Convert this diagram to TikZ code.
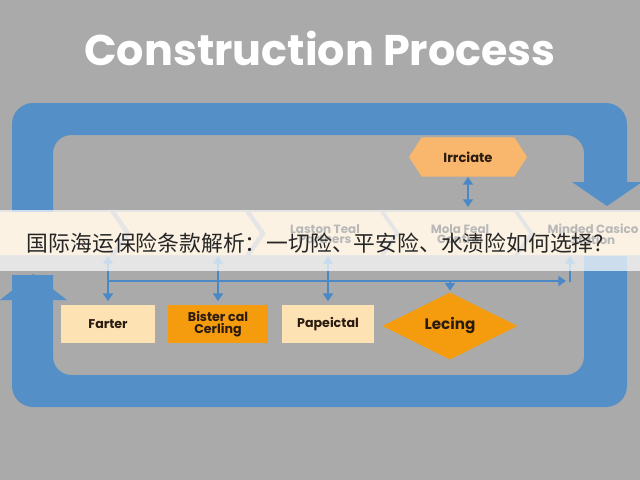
\documentclass[tikz,border=0pt]{standalone}
\usepackage{fontspec}
\setmainfont{Poppins}
\newfontfamily\cjkfont{Noto Sans CJK SC}
\usetikzlibrary{positioning, shapes.geometric, shapes.symbols, arrows.meta}

\definecolor{bggray}{HTML}{AAAAAA}
\definecolor{loopblue}{HTML}{548FC7}
\definecolor{lineblue}{HTML}{4A88C6}
\definecolor{stepcream}{HTML}{FDE2B4}
\definecolor{steporange}{HTML}{F59C0E}
\definecolor{hexorange}{HTML}{F8B76C}
\definecolor{chevcream}{HTML}{F8D4A2}
\definecolor{inkbrown}{HTML}{2A1B10}

\tikzset{
  stepbox/.style={rectangle, fill=stepcream, text=inkbrown, align=center,
    font=\bfseries\fontsize{9}{9}\selectfont, minimum height=27pt, inner sep=1pt},
  link/.style={draw=lineblue, line width=2pt, -{Triangle[width=7pt,length=5.5pt]}},
  twoway/.style={draw=lineblue, line width=2pt,
    {Triangle[width=7pt,length=5.5pt]}-{Triangle[width=7pt,length=5.5pt]}},
  chevlabel/.style={text=black!28, align=center, font=\bfseries\fontsize{8.5}{7.5}\selectfont},
}

\begin{document}
\begin{tikzpicture}[x=0.025cm, y=-0.025cm]
    \useasboundingbox (0,0) rectangle (640,480);
    \fill[bggray] (0,0) rectangle (640,480);

    % title
    \node[text=white, font=\bfseries\fontsize{30.5}{33}\selectfont] (title) at (320,48) {Construction Process};

    % big return loop
    \fill[loopblue, even odd rule] [rounded corners=15pt] (12,103) rectangle (627,407)
        [rounded corners=13pt] (53,135) rectangle (584,375);
    \fill[bggray] (0,214) rectangle (75,275);
    \fill[bggray] (560,182) rectangle (640,256);
    % loop arrow heads
    \fill[loopblue] (0,300) -- (33,274) -- (67,300) -- cycle;
    \fill[loopblue] (572,182) -- (607,206) -- (642,182) -- cycle;

    % upper step
    \node[signal, signal to=east and west, signal pointer angle=114, fill=hexorange,
        text=inkbrown, font=\bfseries\fontsize{9.3}{10}\selectfont,
        minimum width=84pt, minimum height=28pt, inner sep=1pt] (irrciate) at (468,157) {Irrciate};
    \coordinate (hexdrop) at (468,207);
    \draw[twoway] (irrciate.south) -- (hexdrop);

    % lower steps
    \node[stepbox, minimum width=67pt] (farter) at (108,324) {Farter};
    \node[stepbox, fill=steporange, minimum width=71pt] (bister) at (218,324) {Bister cal\\Cerling};
    \node[stepbox, minimum width=65pt] (papeictal) at (328,324) {Papeictal};
    \node[diamond, fill=steporange, text=inkbrown, font=\bfseries\fontsize{10.8}{12}\selectfont,
        minimum width=96pt, minimum height=41pt, inner sep=0pt] (lecing) at (450,326) {Lecing};

    % bus and taps
    \coordinate (busL) at (108,281);
    \coordinate (busR) at (566,281);
    \coordinate (busD) at (450,281);
    \coordinate (tapA) at (108,256);
    \coordinate (tapB) at (218,256);
    \coordinate (tapC) at (328,256);
    \coordinate (tapE) at (570,256);
    \coordinate (cornerE) at (570,282);
    \draw[link] (busL) -- (busR);
    \draw[link] (cornerE) -- (tapE);
    \draw[twoway, shorten >=2.5pt] (tapA) -- (farter.north);
    \draw[twoway, shorten >=2.5pt] (tapB) -- (bister.north);
    \draw[twoway, shorten >=2.5pt] (tapC) -- (papeictal.north);
    \draw[link, shorten >=1pt] (busD) -- (lecing.north);

    % chevron row under the banner
    \foreach \t in {110,245,380,514,648}
        \fill[chevcream] ({\t-129},212) -- (\t,212) -- ({\t+15},233.5) -- (\t,255)
            -- ({\t-129},255) -- ({\t-114},233.5) -- cycle;

    % banner
    \fill[white, opacity=0.7] (0,210) rectangle (640,271);
    \node[chevlabel] (laston) at (325,234) {Laston Teal\\Partners};
    \node[chevlabel] (mola) at (460,234) {Mola Feal\\Control};
    \node[chevlabel] (minded) at (593,234) {Minded Casico\\Station};
    \node[anchor=west, text=black!85, font=\cjkfont\fontsize{15.5}{18}\selectfont] (headline) at (22,243)
        {国际海运保险条款解析：一切险、平安险、水渍险如何选择?};
\end{tikzpicture}
\end{document}
